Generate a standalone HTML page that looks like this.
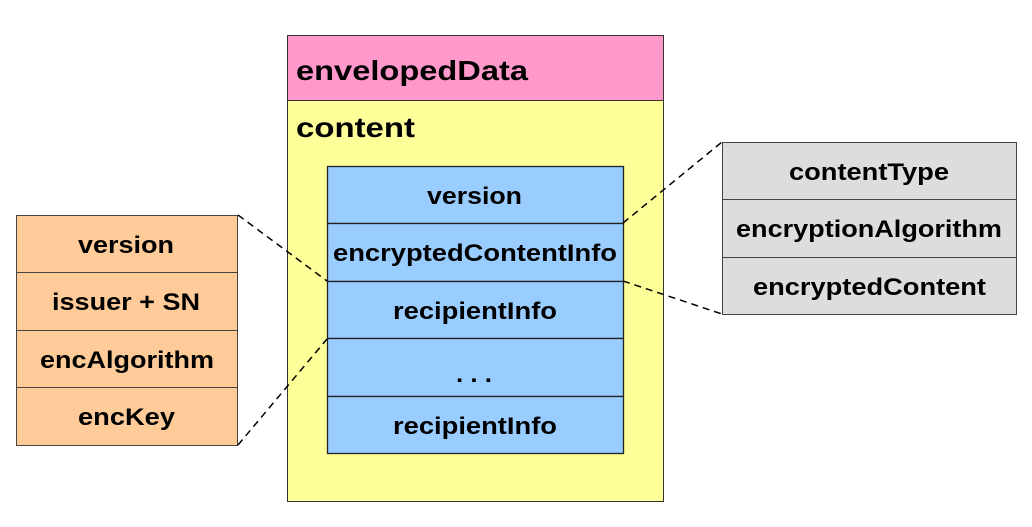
<!DOCTYPE html>
<html><head><style>
html,body{margin:0;padding:0;background:#fff;}
svg text{font-family:"Liberation Sans",Arial,sans-serif;font-weight:bold;fill:#000;}
</style></head><body>
<svg width="1032" height="522" xmlns="http://www.w3.org/2000/svg">
<rect width="1032" height="522" fill="#fff"/>
<rect x="287.5" y="35.5" width="376" height="466" fill="#ffff99" stroke="#333" stroke-width="1"/>
<rect x="287.5" y="35.5" width="376" height="65" fill="#ff99cc" stroke="#333" stroke-width="1"/>
<text x="296" y="80" font-size="28" textLength="232" lengthAdjust="spacingAndGlyphs">envelopedData</text>
<text x="296" y="137" font-size="28" textLength="119" lengthAdjust="spacingAndGlyphs">content</text>
<g stroke="#222" stroke-width="1.3" fill="#99ccff">
<rect x="327.5" y="166.5" width="296" height="57"/>
<rect x="327.5" y="223.5" width="296" height="58"/>
<rect x="327.5" y="281.5" width="296" height="57"/>
<rect x="327.5" y="338.5" width="296" height="58"/>
<rect x="327.5" y="396.5" width="296" height="57"/>
</g>
<g font-size="24">
<text x="427" y="204" textLength="95" lengthAdjust="spacingAndGlyphs">version</text>
<text x="333" y="261" textLength="284" lengthAdjust="spacingAndGlyphs">encryptedContentInfo</text>
<text x="393" y="319" textLength="164" lengthAdjust="spacingAndGlyphs">recipientInfo</text>
<text x="456" y="382" textLength="36" lengthAdjust="spacingAndGlyphs">. . .</text>
<text x="393" y="434" textLength="164" lengthAdjust="spacingAndGlyphs">recipientInfo</text>
</g>
<g stroke="#444" stroke-width="1" fill="#ffcc99">
<rect x="16.5" y="215.5" width="221" height="57"/>
<rect x="16.5" y="272.5" width="221" height="58"/>
<rect x="16.5" y="330.5" width="221" height="57"/>
<rect x="16.5" y="387.5" width="221" height="58"/>
</g>
<g font-size="24">
<text x="78" y="253" textLength="96" lengthAdjust="spacingAndGlyphs">version</text>
<text x="52" y="310" textLength="148" lengthAdjust="spacingAndGlyphs">issuer + SN</text>
<text x="40" y="368" textLength="174" lengthAdjust="spacingAndGlyphs">encAlgorithm</text>
<text x="78" y="425" textLength="97" lengthAdjust="spacingAndGlyphs">encKey</text>
</g>
<g stroke="#444" stroke-width="1" fill="#dddddd">
<rect x="722.5" y="142.5" width="294" height="57"/>
<rect x="722.5" y="199.5" width="294" height="58"/>
<rect x="722.5" y="257.5" width="294" height="57"/>
</g>
<g font-size="24">
<text x="789" y="180" textLength="160" lengthAdjust="spacingAndGlyphs">contentType</text>
<text x="736" y="237" textLength="266" lengthAdjust="spacingAndGlyphs">encryptionAlgorithm</text>
<text x="753" y="295" textLength="233" lengthAdjust="spacingAndGlyphs">encryptedContent</text>
</g>
<g stroke="#000" stroke-width="1.5" stroke-dasharray="7,5" fill="none">
<line x1="238" y1="215" x2="327" y2="281"/>
<line x1="238" y1="445" x2="327" y2="339"/>
<line x1="623" y1="223" x2="722" y2="142"/>
<line x1="623" y1="281" x2="722" y2="314"/>
</g>
</svg>
</body></html>
